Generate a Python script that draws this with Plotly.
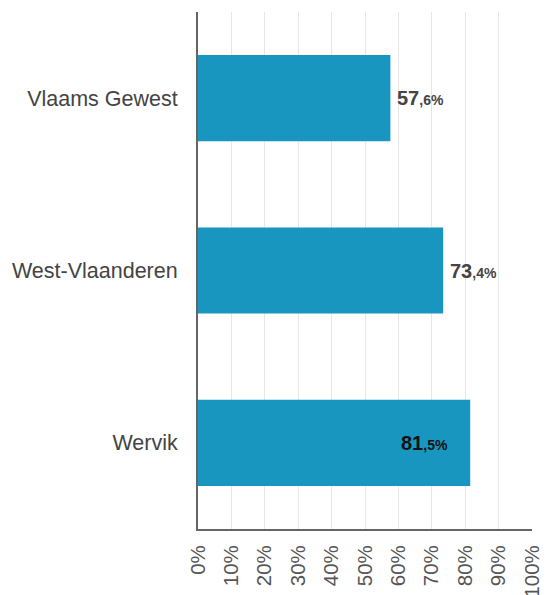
import plotly.graph_objects as go

categories = ["Vlaams Gewest", "West-Vlaanderen", "Wervik"]
values = [57.6, 73.4, 81.5]
label_inside = [False, False, True]
tick_vals = [0, 10, 20, 30, 40, 50, 60, 70, 80, 90, 100]
tick_text = [f"{v}%" for v in tick_vals]

BAR = "#1896BF"
FONT = "Liberation Sans, Arial, sans-serif"

fig = go.Figure()
fig.add_trace(go.Bar(
    y=categories, x=values, orientation="h",
    marker=dict(color=BAR, line=dict(width=0)),
    hoverinfo="skip",
))

annotations = []
for c, v, ins in zip(categories, values, label_inside):
    ip, dp = f"{v:.1f}".split(".")
    txt = f"<b>{ip}</b><span style='font-size:14px'><b>,{dp}%</b></span>"
    annotations.append(dict(
        x=v, y=c, xref="x", yref="y", text=txt, showarrow=False,
        xanchor="right" if ins else "left",
        xshift=-20 if ins else 5,
        font=dict(size=20, color="#111111" if ins else "#444444", family=FONT),
    ))

fig.update_layout(
    width=542, height=587,
    margin=dict(l=190, r=18, t=4, b=66),
    plot_bgcolor="white", paper_bgcolor="white",
    bargap=0.5, showlegend=False,
    font=dict(family=FONT, color="#444444"),
    annotations=annotations,
    xaxis=dict(
        range=[0, 100], tickvals=tick_vals, ticktext=tick_text,
        tickangle=-90, showgrid=True, gridcolor="#e6e6e6", gridwidth=1,
        showline=True, linecolor="#666666", linewidth=2,
        zeroline=False, tickfont=dict(size=20.5, color="#555555"),
        ticklabelstandoff=6, fixedrange=True, automargin=False,
    ),
    yaxis=dict(
        autorange="reversed", showline=True, linecolor="#666666", linewidth=2,
        showgrid=False, tickfont=dict(size=21.5, color="#444444"),
        ticklabelstandoff=14, fixedrange=True, automargin=False,
    ),
)

fig.write_html("out.html")
